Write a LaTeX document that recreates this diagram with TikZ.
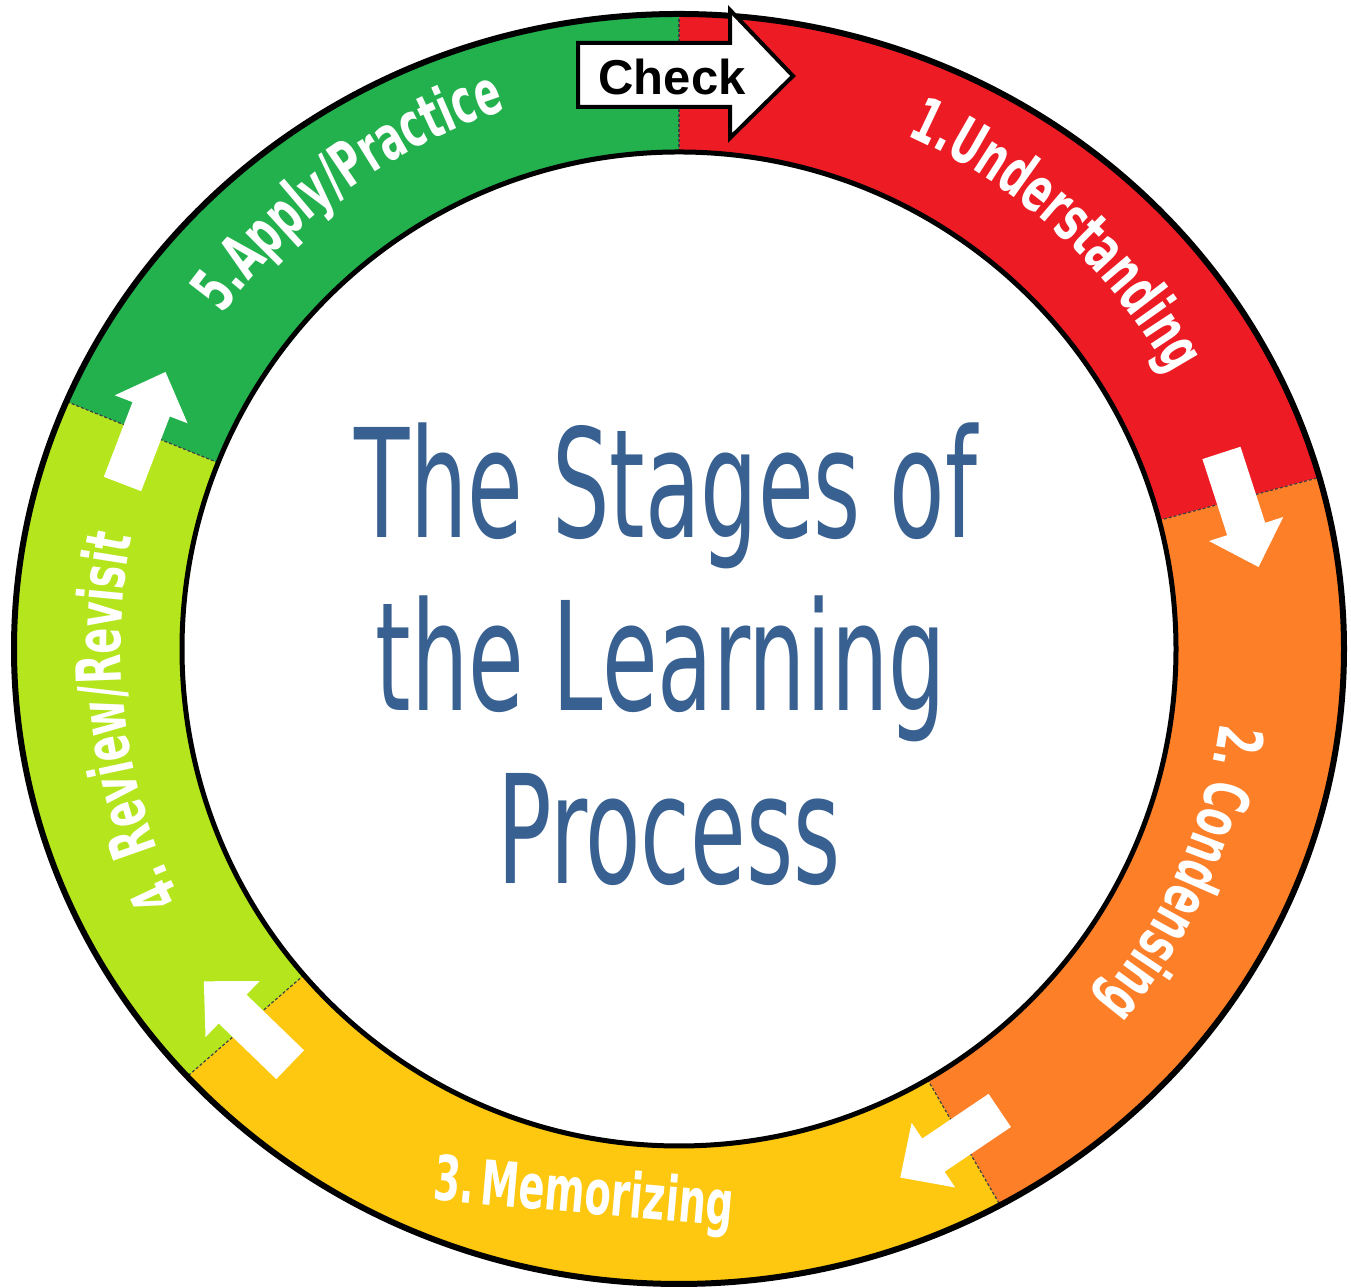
\documentclass[tikz,border=0pt]{standalone}
\usepackage{fontspec}
\setmainfont{DejaVu Sans}
\newfontfamily\titlefont[FakeStretch=0.6]{DejaVu Sans}
\newfontfamily\lblfont[FakeStretch=0.62]{DejaVu Sans}
\newfontfamily\checkfont{Liberation Sans}
\usetikzlibrary{decorations.text}
\definecolor{segred}{HTML}{ED1C24}
\definecolor{segorange}{HTML}{FD7F28}
\definecolor{segyellow}{HTML}{FDC80F}
\definecolor{seglime}{HTML}{B5E61D}
\definecolor{seggreen}{HTML}{22B14C}
\definecolor{titleblue}{HTML}{386090}
\newcommand\ringfmt{\lblfont\bfseries\fontsize{31}{31}\selectfont}
\tikzset{
  ringlabel/.style={decorate, decoration={text along path, text align=center, text color=white}},
  bound/.style={draw=black!75, line width=0.6pt, dash pattern=on 1.5pt off 1pt},
  pics/whitearrow/.style={code={\fill[white] (-60,-20) -- (20,-20) -- (20,-39) -- (60,0) -- (20,39) -- (20,20) -- (-60,20) -- cycle;}},
  titletext/.style={font=\titlefont\fontsize{75.5}{75.5}\selectfont, text=titleblue, anchor=base, inner sep=0pt},
}
\begin{document}
\begin{tikzpicture}[x=0.5pt,y=0.5pt]
\useasboundingbox (0,0) rectangle (1351,1288);
\fill[white] (0,0) rectangle (1351,1288);
\begin{scope}[shift={(679,639)}]
  \foreach \a/\b/\col in {15/90/segred, -60/15/segorange, -139/-60/segyellow, -202/-139/seglime, 90/158/seggreen}{
    \begin{scope}
      \clip (0,0) -- (\a:1000) -- ({(\a+\b)/2}:1000) -- (\b:1000) -- cycle;
      \fill[\col, even odd rule] (0,0) ellipse [x radius=665, y radius=635] (0,0) circle [radius=497];
    \end{scope}
  }
  \begin{scope}
    \clip (0,0) ellipse [x radius=665, y radius=635];
    \foreach \a in {90,15,-60,-139,158}{
      \draw[bound] (\a:497) -- (\a:700);
    }
  \end{scope}
  \draw[line width=3pt] (0,0) ellipse [x radius=665, y radius=635];
  \draw[line width=2.5pt] (0,0) circle [radius=497];
  \path[ringlabel, decoration={text={|\ringfmt|1.Understanding}}] (87.6:562) arc[start angle=87.6, end angle=7.6, radius=562];
  \path[ringlabel, decoration={text={|\ringfmt|2. Condensing}}] (16:546) arc[start angle=16, end angle=-64, radius=546];
  \path[ringlabel, decoration={text={|\ringfmt|4. Review/Revisit}}] (227.5:558) arc[start angle=227.5, end angle=147.5, radius=558];
  \path[ringlabel, decoration={text={|\ringfmt|5.Apply/Practice}}] (165.8:566) arc[start angle=165.8, end angle=85.8, radius=566];
\end{scope}
\node[rotate=-5, font=\ringfmt, text=white, anchor=base, inner sep=0pt] (lbl3) at (582,75) {3.\hspace{0.1em}Memorizing};
\pic[rotate=-72] at (1240,778) {whitearrow};
\pic[rotate=-146] at (950,144) {whitearrow};
\pic[rotate=136] at (247,265) {whitearrow};
\pic[rotate=69] at (144,860) {whitearrow};
\draw[fill=white, line width=2pt, line join=miter] (578,1245) -- (730,1245) -- (730,1278) -- (793,1212) -- (730,1150) -- (730,1181) -- (578,1181) -- cycle;
\node[font=\checkfont\bfseries\fontsize{24.5}{24.5}\selectfont, inner sep=0pt] (check) at (672,1211) {Check};
\node[titletext] (t1) at (666,750) {The Stages of};
\node[titletext] (t2) at (661,577) {the Learning};
\node[titletext] (t3) at (669,404) {Process};
\end{tikzpicture}
\end{document}
